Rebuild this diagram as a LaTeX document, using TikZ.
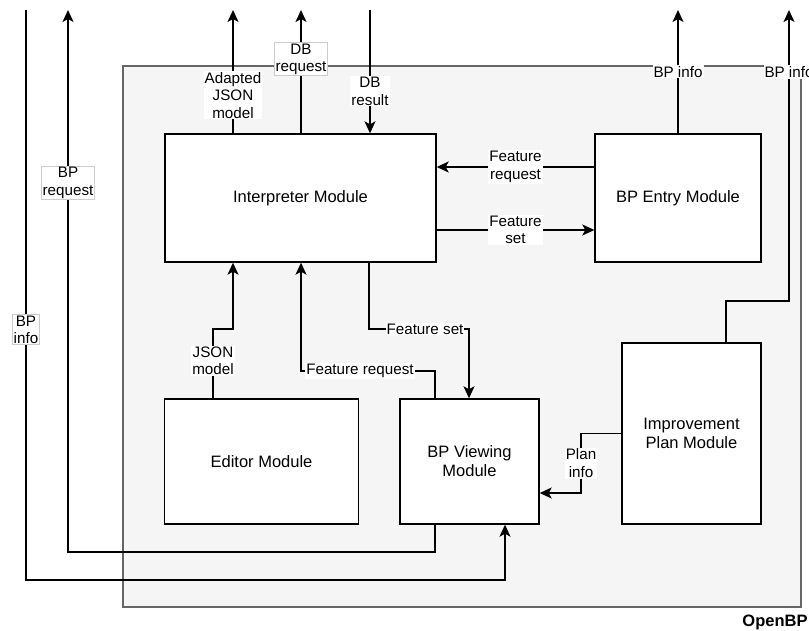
\documentclass[tikz,border=0pt]{standalone}
\usepackage{fontspec}
\setmainfont{Liberation Sans}
\usepackage{xcolor}
\usetikzlibrary{arrows.meta, positioning}
\definecolor{frameline}{HTML}{666666}
\definecolor{framefill}{HTML}{F5F5F5}
\tikzset{
  frame/.style={draw=frameline, fill=framefill, line width=1.4pt, inner sep=0pt},
  box/.style={draw, fill=white, line width=1.4pt, align=center, inner sep=0pt,
    font=\fontsize{16.5}{19}\selectfont},
  arr/.style={-{Stealth[length=12pt, width=11pt, inset=3pt]}, line width=1.4pt},
  ln/.style={line width=1.4pt},
  lbl/.style={fill=white, inner sep=1pt, align=center, font=\fontsize{15.2}{17.5}\selectfont},
  lblb/.style={lbl, draw=gray!40, line width=0.8pt}
}

\begin{document}
\begin{tikzpicture}[x=1pt, y=-1pt]
    \useasboundingbox (0,0) rectangle (809,631);

    % container
    \node[frame, minimum width=678pt, minimum height=541pt] (openbp) at (462,336.5) {};
    \node[font=\bfseries\fontsize{16.5}{19}\selectfont] (openbplbl) at (775,622) {OpenBP};

    % modules
    \node[box, minimum width=271pt, minimum height=128pt] (inter) at (300.5,198) {Interpreter Module};
    \node[box, minimum width=166pt, minimum height=128pt] (entry) at (678,198) {BP Entry Module};
    \node[box, minimum width=194pt, minimum height=125pt] (editor) at (261.5,461.5) {Editor Module};
    \node[box, minimum width=139pt, minimum height=125pt] (view) at (469.5,461.5) {BP Viewing\\Module};
    \node[box, minimum width=139pt, minimum height=181pt] (impr) at (691.5,433.5) {Improvement\\Plan Module};

    % free ends and bends
    \coordinate (tAJ) at (233,10);
    \coordinate (tDBq) at (301,10);
    \coordinate (tDBr) at (370,10);
    \coordinate (tBPe) at (678,10);
    \coordinate (tBPi) at (789,10);
    \coordinate (tBPr) at (68,10);
    \coordinate (tBPl) at (26,10);
    \coordinate (jbend) at (233,329);
    \coordinate (frbend) at (301,371);
    \coordinate (fsbend) at (469,329);
    \coordinate (pbend) at (581,493);
    \coordinate (ibend) at (789,301);
    \coordinate (rbot) at (68,552);
    \coordinate (lbot) at (505,580);

    % interpreter to the outside
    \draw[arr] (tAJ |- inter.north) -- node[lbl, pos=0.31] {Adapted\\JSON\\model} (tAJ);
    \draw[arr] (tDBq |- inter.north) -- node[lblb, pos=0.6] {DB\\request} (tDBq);
    \draw[arr] (tDBr) -- node[lbl, pos=0.66] {DB\\result} (tDBr |- inter.north);
    \draw[arr] (entry.north) -- node[lbl] {BP info} (tBPe);

    % interpreter and entry
    \draw[arr] ([yshift=31pt]entry.west) -- node[lbl] {Feature\\request} ([yshift=31pt]inter.east);
    \draw[arr] ([yshift=-32pt]inter.east) -- node[lbl] {Feature\\set} ([yshift=-32pt]entry.west);

    % lower modules
    \draw[arr] ([xshift=-48.5pt]editor.north) -- node[lbl, pos=0.54] {JSON\\model} ([xshift=-48.5pt]editor.north |- jbend)
      -- (jbend) -- (jbend |- inter.south);
    \draw[arr] ([xshift=-34.5pt]view.north) -- ([xshift=-34.5pt]view.north |- frbend)
      -- node[lbl, pos=0.56] {Feature request} (frbend) -- (frbend |- inter.south);
    \draw[arr] ([xshift=68.5pt]inter.south) -- ([xshift=68.5pt]inter.south |- fsbend)
      -- node[lbl, pos=0.56] {Feature set} (fsbend) -- (fsbend |- view.north);
    \draw[arr] (impr.west) -- (impr.west -| pbend) -- node[lbl] {Plan\\info} (pbend) -- (pbend -| view.east);
    \draw[arr] ([xshift=34.5pt]impr.north) -- ([xshift=34.5pt]impr.north |- ibend) -- (ibend)
      -- node[lbl, pos=0.787] {BP info} (tBPi);

    % loops round the left side
    \draw[arr] ([xshift=-34.5pt]view.south) -- ([xshift=-34.5pt]view.south |- rbot) -- (rbot)
      -- node[lblb, pos=0.681] {BP\\request} (tBPr);
    \draw[arr] (tBPl) -- node[lblb, pos=0.561] {BP\\info} (tBPl |- lbot) -- (lbot) -- (lbot |- view.south);
  \end{tikzpicture}
\end{document}
